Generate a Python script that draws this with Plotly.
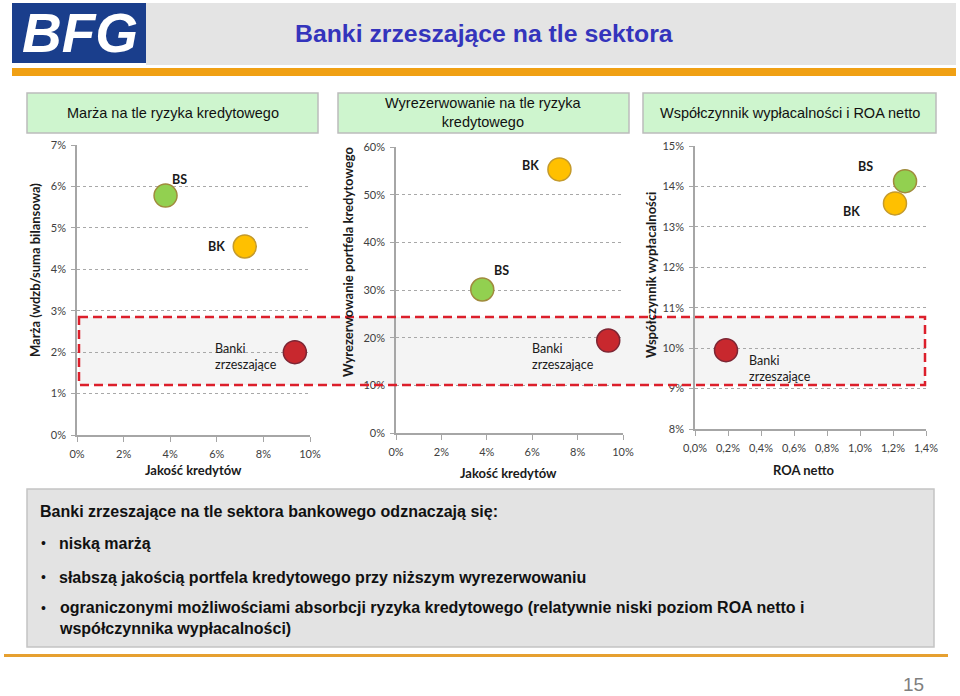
import plotly.graph_objects as go

W, H = 960, 696

# ---------------- data ----------------
groups = ["BS", "BK", "Banki<br>zrzeszające"]
jakosc_kredytow = [0.038, 0.072, 0.0935]          # x of panels 1 & 2
marza = [0.0578, 0.0455, 0.0200]                  # panel 1 y
wyrezerwowanie = [0.301, 0.553, 0.194]            # panel 2 y
roa_netto = [0.01273, 0.01212, 0.00188]           # panel 3 x
wsp_wyplacalnosci = [0.1413, 0.1358, 0.0995]      # panel 3 y

panel_titles = ["Marża na tle ryzyka kredytowego",
                "Wyrezerwowanie na tle ryzyka<br>kredytowego",
                "Współczynnik wypłacalności i ROA netto"]
x_titles = ["Jakość kredytów", "Jakość kredytów", "ROA netto"]
y_titles = ["Marża (wdzb/suma bilansowa)",
            "Wyrezerwowanie portfela kredytowego",
            "Współczynnik wypłacalności"]
title = "Banki zrzeszające na tle sektora"
summary_head = "Banki zrzeszające na tle sektora bankowego odznaczają się:"
bullets = ["niską marżą",
           "słabszą jakością portfela kredytowego przy niższym wyrezerwowaniu",
           "ograniczonymi możliwościami absorbcji ryzyka kredytowego (relatywnie niski poziom ROA netto i<br>współczynnika wypłacalności)"]
page_no = "15"

# ---------------- styles ----------------
fill_colors = ["#92d050", "#ffc000", "#c8282e"]
line_colors = ["#a08a3c", "#c49a2c", "#7c2634"]
FONT = "Lato"
TICKC = "#404040"
AXC = "#a6a6a6"

def px(x):
    return x / W

def py(y):
    return 1 - y / H

# label offsets (pixels, relative to marker centre) per panel, per group: (dx, dy_down, anchor)
label_off = [
    [(14, -16, "center"), (-28, 0, "center"), (-82, 4, "left")],
    [(19, -19, "center"), (-29, -4, "center"), (-78, 16, "left")],
    [(-40, -15, "center"), (-43, 8, "center"), (21, 18, "left")],
]

# panel geometry in pixels: (x0, x1, ybottom, ytop)
geo = [(77, 310, 435, 145), (396, 623, 433, 147), (695, 926, 429, 146)]

fig = go.Figure()

panels = [
    (jakosc_kredytow, marza, [0, 0.1000001], [0, 0.0700001], 0.02, 0.01, ".0%", ".0%"),
    (jakosc_kredytow, wyrezerwowanie, [0, 0.1000001], [0, 0.600001], 0.02, 0.1, ".0%", ".0%"),
    (roa_netto, wsp_wyplacalnosci, [0, 0.01400001], [0.08, 0.1500001], 0.002, 0.01, ".1%", ".0%"),
]

annotations = []
layout_axes = {}
for i, (xs, ys, xr, yr, dx, dy, xf, yf) in enumerate(panels):
    n = "" if i == 0 else str(i + 1)
    xa, ya = "x" + n, "y" + n
    fig.add_trace(go.Scatter(
        x=xs, y=ys, mode="markers", xaxis=xa, yaxis=ya,
        marker=dict(size=23, color=fill_colors,
                    line=dict(color=line_colors, width=1.5)),
        hoverinfo="skip", showlegend=False))
    x0, x1, yb, yt = geo[i]
    layout_axes["xaxis" + n] = dict(
        domain=[px(x0), px(x1)], range=xr, dtick=dx, tick0=0, tickformat=xf,
        anchor=ya, showgrid=False, zeroline=False, showline=True, automargin=False,
        linecolor=AXC, linewidth=1.5, ticks="outside", ticklen=5,
        tickcolor=AXC, tickwidth=1.2, ticklabelstandoff=3,
        tickfont=dict(family=FONT, size=11, color=TICKC), fixedrange=True)
    layout_axes["yaxis" + n] = dict(
        domain=[py(yb), py(yt)], range=yr, dtick=dy, tick0=0, tickformat=yf,
        anchor=xa, showgrid=True, gridcolor="#a8a8a8", griddash="dot", automargin=False,
        gridwidth=1, zeroline=False, showline=True, linecolor=AXC,
        linewidth=1.5, ticks="outside", ticklen=4, tickcolor=AXC,
        tickwidth=1.2, ticklabelstandoff=3,
        tickfont=dict(family=FONT, size=11, color=TICKC), fixedrange=True)
    for g, xv, yv, (ox, oy, anc) in zip(groups, xs, ys, label_off[i]):
        bold = anc == "center"
        annotations.append(dict(
            x=xv, y=yv, xref=xa, yref=ya, text=g, showarrow=False,
            xanchor=anc, yanchor="middle", align="left",
            xshift=ox, yshift=-oy,
            font=dict(family=FONT, size=12.5,
                      color="#1a1a1a", weight="bold" if bold else "normal")))

# axis titles
x_title_pos = [(193, 470), (509, 473), (803, 470)]
y_title_pos = [(35, 270), (348, 262), (651, 275)]
for i in range(3):
    annotations.append(dict(x=px(x_title_pos[i][0]), y=py(x_title_pos[i][1]),
                            xref="paper", yref="paper", text=x_titles[i],
                            showarrow=False, xanchor="center", yanchor="middle",
                            font=dict(family=FONT, size=13, color="#1a1a1a", weight="bold")))
    annotations.append(dict(x=px(y_title_pos[i][0]), y=py(y_title_pos[i][1]),
                            xref="paper", yref="paper", text=y_titles[i],
                            showarrow=False, textangle=-90, xanchor="center", yanchor="middle",
                            font=dict(family=FONT, size=13, color="#1a1a1a", weight="bold")))

shapes = []
# header band
shapes.append(dict(type="rect", xref="paper", yref="paper", x0=px(146), x1=px(956),
                   y0=py(65), y1=py(3), fillcolor="#e4e4e4", line=dict(width=0), layer="below"))
shapes.append(dict(type="rect", xref="paper", yref="paper", x0=px(12), x1=px(146),
                   y0=py(63), y1=py(3), fillcolor="#1a3e8c", line=dict(width=0), layer="below"))
shapes.append(dict(type="rect", xref="paper", yref="paper", x0=px(12), x1=px(956),
                   y0=py(76), y1=py(68), fillcolor="#f0a014", line=dict(width=0), layer="below"))
# panel header boxes
hdr = [(27, 318), (338, 629), (643, 936)]
for (a, b), t in zip(hdr, panel_titles):
    shapes.append(dict(type="rect", xref="paper", yref="paper", x0=px(a), x1=px(b),
                       y0=py(133), y1=py(93), fillcolor="#cef5ce",
                       line=dict(color="#bcbcbc", width=1.5), layer="below"))
    annotations.append(dict(x=px((a + b) / 2), y=py(113), xref="paper", yref="paper",
                            text=t, showarrow=False, xanchor="center", yanchor="middle",
                            font=dict(family="Liberation Sans", size=14.5, color="#111111")))
# highlight band across panels
shapes.append(dict(type="rect", xref="paper", yref="paper", x0=px(79), x1=px(925),
                   y0=py(385), y1=py(317), fillcolor="#f4f4f4", line=dict(width=0), layer="below"))
shapes.append(dict(type="path", xref="paper", yref="paper",
                   path=f"M {px(79)},{py(317)} L {px(925)},{py(317)} L {px(925)},{py(385)} L {px(79)},{py(385)} Z",
                   line=dict(color="#dc1f2b", width=2.5, dash="9px,5px"), layer="above"))
# summary box
shapes.append(dict(type="rect", xref="paper", yref="paper", x0=px(27), x1=px(934),
                   y0=py(647), y1=py(489), fillcolor="#e3e3e3",
                   line=dict(color="#c4c4c4", width=1.5), layer="below"))
shapes.append(dict(type="rect", xref="paper", yref="paper", x0=px(4), x1=px(948),
                   y0=py(657), y1=py(654), fillcolor="#e6a030", line=dict(width=0), layer="below"))

# header texts
annotations.append(dict(x=px(484), y=py(34), xref="paper", yref="paper", text=title,
                        showarrow=False, xanchor="center", yanchor="middle",
                        font=dict(family="Liberation Sans", size=24.8, color="#3434bc", weight="bold")))
annotations.append(dict(x=px(80), y=py(33), xref="paper", yref="paper", text="<b><i>BFG</i></b>",
                        showarrow=False, xanchor="center", yanchor="middle",
                        font=dict(family="Liberation Sans", size=55, color="#ffffff")))

# summary texts
annotations.append(dict(x=px(38), y=py(511), xref="paper", yref="paper", text=summary_head,
                        showarrow=False, xanchor="left", yanchor="middle",
                        font=dict(family="Liberation Sans", size=16, color="#111111", weight="bold")))
bullet_y = [543, 577, 618]
for t, yv in zip(bullets, bullet_y):
    annotations.append(dict(x=px(39), y=py(yv if "<br>" not in t else 608), xref="paper", yref="paper",
                            text="•", showarrow=False, xanchor="left", yanchor="middle",
                            font=dict(family="Liberation Sans", size=14, color="#111111")))
    annotations.append(dict(x=px(57), y=py(yv), xref="paper", yref="paper", text=t,
                            showarrow=False, xanchor="left", yanchor="middle", align="left",
                            font=dict(family="Liberation Sans", size=16, color="#111111", weight="bold")))
annotations.append(dict(x=px(913), y=py(684), xref="paper", yref="paper", text=page_no,
                        showarrow=False, xanchor="center", yanchor="middle",
                        font=dict(family="Liberation Sans", size=19, color="#7f7f7f")))

fig.update_layout(width=W, height=H, margin=dict(l=0, r=0, t=0, b=0, pad=0, autoexpand=False),
                  paper_bgcolor="white", plot_bgcolor="rgba(0,0,0,0)",
                  separators=", ", shapes=shapes, annotations=annotations,
                  showlegend=False, **layout_axes)

fig.write_html("out.html", config={"displayModeBar": False},
               post_script="document.body.style.margin='0px';")
